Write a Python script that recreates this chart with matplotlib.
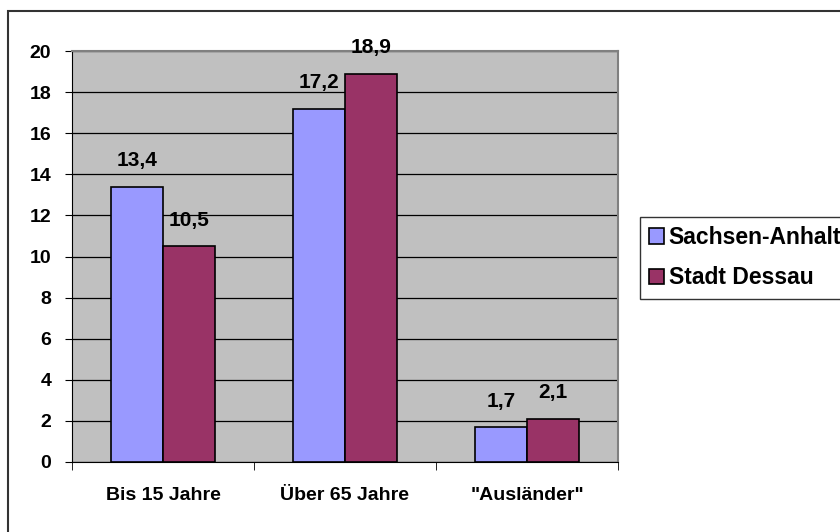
import numpy as np
import matplotlib
matplotlib.use('Agg')
import matplotlib.pyplot as plt
from matplotlib.patches import Rectangle

# data
categories = ['Bis 15 Jahre', 'Über 65 Jahre', '"Ausländer"']
series = ['Sachsen-Anhalt', 'Stadt Dessau']
sachsen = [13.4, 17.2, 1.7]
dessau = [10.5, 18.9, 2.1]
labels_s = ['13,4', '17,2', '1,7']
labels_d = ['10,5', '18,9', '2,1']

plt.rcParams['font.family'] = ['Liberation Sans', 'DejaVu Sans']
plt.rcParams['font.weight'] = 'bold'

fig = plt.figure(figsize=(8.4, 5.32), dpi=100)
fig.patches.append(Rectangle((8/840, -0.1), 1.2, 1 - 11/532 + 0.1,
                             transform=fig.transFigure, fill=False,
                             edgecolor='#333333', lw=1.5))

ax = fig.add_axes([72/840, 70/532, 546/840, 411/532])
ax.set_facecolor('#C0C0C0')

x = np.arange(len(categories))
w = 52/182

b1 = ax.bar(x - w/2, sachsen, w, color='#9999FF', edgecolor='black', lw=1.2,
            label=series[0], zorder=3)
b2 = ax.bar(x + w/2, dessau, w, color='#993366', edgecolor='black', lw=1.2,
            label=series[1], zorder=3)

for i in range(len(categories)):
    ax.text(x[i] - w/2, sachsen[i] + 0.8, labels_s[i], ha='center', va='bottom',
            fontsize=15, fontweight='bold')
    ax.text(x[i] + w/2, dessau[i] + 0.8, labels_d[i], ha='center', va='bottom',
            fontsize=15, fontweight='bold')

ax.set_xlim(-0.5, 2.5)
ax.set_ylim(0, 20)
ax.set_yticks(np.arange(0, 21, 2))
ax.yaxis.grid(True, color='black', lw=0.9, zorder=0)
ax.set_axisbelow(True)

ax.set_xticks(x)
ax.set_xticklabels(categories, fontsize=14, fontweight='bold')
ax.set_xticks([-0.5, 0.5, 1.5, 2.5], minor=True)
ax.tick_params(axis='x', which='major', length=0, pad=18)
ax.tick_params(axis='x', which='minor', length=6, color='black')
ax.tick_params(axis='y', length=5, labelsize=14, color='black', pad=10)

for s in ['top', 'right']:
    ax.spines[s].set_color('#808080')
    ax.spines[s].set_linewidth(1.5)
ax.spines['left'].set_color('black')
ax.spines['bottom'].set_color('black')

leg = ax.legend(loc='upper left', bbox_to_anchor=(640/840, 1 - 217/532),
                bbox_transform=fig.transFigure, frameon=True, fancybox=False,
                prop={'size': 16.5, 'weight': 'bold'}, handlelength=0.65,
                handleheight=0.65, handletextpad=0.2, borderpad=0.4,
                labelspacing=0.75, borderaxespad=0)
leg.get_frame().set_edgecolor('black')
leg.get_frame().set_linewidth(1.0)

plt.savefig('out.png', dpi=100)
plt.close()
